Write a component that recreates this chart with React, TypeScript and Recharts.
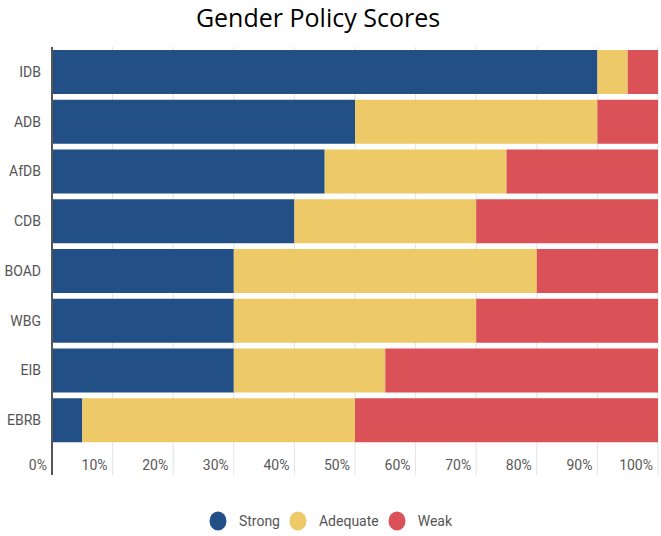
import React from "react";
import { BarChart, Bar, XAxis, YAxis, CartesianGrid, Legend } from "recharts";

const BANKS = ["IDB", "ADB", "AfDB", "CDB", "BOAD", "WBG", "EIB", "EBRB"];
const STRONG = [90, 50, 45, 40, 30, 30, 30, 5];
const ADEQUATE = [5, 40, 30, 30, 50, 40, 25, 45];
const WEAK = [5, 10, 25, 30, 20, 30, 45, 50];
const X_TICKS = [0, 10, 20, 30, 40, 50, 60, 70, 80, 90, 100];

const SERIES = [
  { key: "strong", name: "Strong", color: "#234f87" },
  { key: "adequate", name: "Adequate", color: "#eec968" },
  { key: "weak", name: "Weak", color: "#da5157" },
];

const data = BANKS.map((bank, i) => ({
  bank,
  strong: STRONG[i],
  adequate: ADEQUATE[i],
  weak: WEAK[i],
}));

const FONT = "Roboto, 'Noto Sans', sans-serif";

function XTick(props: any) {
  const { x, y, payload } = props;
  const isZero = payload.value === 0;
  return (
    <g>
      <line
        x1={x}
        x2={x}
        y1={y}
        y2={y + 30}
        stroke={isZero ? "#555" : "#e3e3e3"}
        strokeWidth={isZero ? 2 : 1}
      />
      <text x={x - 5} y={y + 25} textAnchor="end" fill="#595959" fontSize={14} fontFamily={FONT}>
        {payload.value}%
      </text>
    </g>
  );
}

function LegendContent() {
  return (
    <div style={{ display: "flex", justifyContent: "center", alignItems: "center", fontFamily: FONT, fontSize: 14, color: "#555" }}>
      {SERIES.map((s, i) => (
        <div key={s.key} style={{ display: "flex", alignItems: "center", marginLeft: i === 0 ? 0 : 9 }}>
          <svg width={18} height={20}>
            <ellipse cx={9} cy={10} rx={8.5} ry={9.5} fill={s.color} />
          </svg>
          <span style={{ marginLeft: 12 }}>{s.name}</span>
        </div>
      ))}
    </div>
  );
}

export default function App() {
  return (
    <div style={{ position: "relative", width: 661, height: 536, background: "#fff" }}>
      <style>{"body{margin:0}"}</style>
      <div
        style={{
          position: "absolute",
          top: 0,
          left: 0,
          width: 636,
          textAlign: "center",
          fontFamily: "'Open Sans', Lato, sans-serif",
          fontSize: 25,
          lineHeight: "normal",
          color: "#000",
        }}
      >
        Gender Policy Scores
      </div>
      <BarChart
        width={661}
        height={536}
        data={data}
        layout="vertical"
        margin={{ top: 47, right: 3, left: 0, bottom: 61 }}
      >
        <CartesianGrid horizontal={false} stroke="#e3e3e3" />
        <XAxis
          type="number"
          domain={[0, 100]}
          ticks={X_TICKS}
          interval={0}
          axisLine={false}
          tickLine={false}
          tickSize={0}
          tickMargin={0}
          height={30}
          tick={<XTick />}
        />
        <YAxis
          type="category"
          dataKey="bank"
          width={52}
          axisLine={{ stroke: "#555", strokeWidth: 2 }}
          tickLine={false}
          tickSize={0}
          tickMargin={11}
          tick={{ fill: "#555", fontSize: 14, fontFamily: FONT }}
        />
        <Legend
          verticalAlign="middle"
          align="center"
          layout="horizontal"
          wrapperStyle={{ top: 511, left: 0, width: 661 }}
          content={<LegendContent />}
        />
        {SERIES.map((s) => (
          <Bar
            key={s.key}
            dataKey={s.key}
            name={s.name}
            stackId="a"
            fill={s.color}
            barSize={44}
            isAnimationActive={false}
          />
        ))}
      </BarChart>
    </div>
  );
}
